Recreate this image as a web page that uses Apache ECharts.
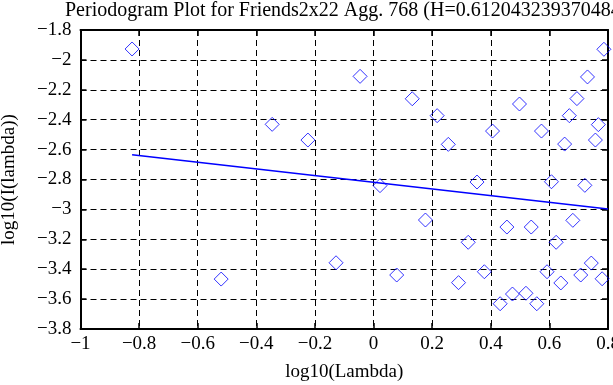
<!DOCTYPE html>
<html><head><meta charset="utf-8">
<script src="https://cdn.jsdelivr.net/npm/echarts@6/dist/echarts.min.js"></script>
<style>html,body{margin:0;padding:0;background:#fff}#c{width:613px;height:385px}</style>
</head><body><div id="c"></div>
<script>
const titleText = "Periodogram Plot for Friends2x22 Agg. 768 (H=0.6120432393704842)";
const xName = "log10(Lambda)";
const yName = "log10(I(lambda))";
const pointX = [-0.824,-0.520,-0.346,-0.224,-0.128,-0.046,0.132,0.217,0.255,0.406,0.498,0.573,0.652,0.668,0.694,0.730,0.786,0.767,0.757,0.022,0.353,0.607,0.721,0.177,0.455,0.538,0.680,0.323,0.623,0.079,0.290,0.378,0.592,0.639,0.707,0.743,0.780,0.474,0.520,0.432,0.557];
const pointY = [-1.927,-3.466,-2.431,-2.536,-3.357,-2.110,-2.260,-2.373,-2.565,-2.476,-2.295,-2.476,-2.563,-2.373,-2.259,-2.114,-1.929,-2.433,-2.536,-2.841,-2.817,-2.815,-2.839,-3.071,-3.118,-3.118,-3.073,-3.220,-3.220,-3.439,-3.490,-3.417,-3.417,-3.492,-3.439,-3.359,-3.464,-3.566,-3.561,-3.631,-3.631];
const fitX = [-0.824, 0.8];
const fitY = [-2.634, -2.997];

const font = '"Liberation Serif","Times New Roman",serif';
const fs = 19;
const minus = v => String(v).replace('-', '\u2212');
const chart = echarts.init(document.getElementById('c'));
const baseAxis = {
  axisLine:{show:true,onZero:false,lineStyle:{color:'#000',width:2}},
  axisTick:{show:true,inside:true,length:6,lineStyle:{color:'#000',width:1.5}},
  splitLine:{show:false}
};
chart.setOption({
  animation:false,
  title:{text:titleText,left:60,top:-4,textStyle:{fontFamily:font,fontSize:20,fontWeight:'normal',color:'#000'}},
  grid:{left:80.5,right:5,top:30,bottom:56,containLabel:false,outerBoundsMode:'none'},
  xAxis:[
    Object.assign({},baseAxis,{type:'value',min:-1,max:0.8,interval:0.2,position:'bottom',
      name:xName,nameLocation:'middle',nameGap:34,nameTextStyle:{fontFamily:font,fontSize:fs,color:'#000'},
      axisLabel:{fontFamily:font,fontSize:fs,color:'#000',margin:6,formatter:minus},
      splitLine:{show:true,lineStyle:{color:'#000',type:[6,4],width:1}}}),
    Object.assign({},baseAxis,{type:'value',min:-1,max:0.8,interval:0.2,position:'top',axisLabel:{show:false}})
  ],
  yAxis:[
    Object.assign({},baseAxis,{type:'value',min:-3.8,max:-1.8,interval:0.2,position:'left',
      name:yName,nameLocation:'middle',nameGap:62,nameRotate:90,nameTextStyle:{fontFamily:font,fontSize:fs,color:'#000'},
      axisLabel:{fontFamily:font,fontSize:fs,color:'#000',margin:9,padding:[6,0,0,0],formatter:minus},
      splitLine:{show:true,lineStyle:{color:'#000',type:[6,4],width:1}}}),
    Object.assign({},baseAxis,{type:'value',min:-3.8,max:-1.8,interval:0.2,position:'right',axisLabel:{show:false}})
  ],
  series:[
    {type:'scatter',data:pointX.map((x,i)=>[x,pointY[i]]),symbol:'diamond',symbolSize:[14,14],
     itemStyle:{color:'rgba(0,0,0,0)',borderColor:'#0000ff',borderWidth:1},z:3},
    {type:'line',data:fitX.map((x,i)=>[x,fitY[i]]),symbol:'none',lineStyle:{color:'#0000ff',width:1.5},z:4}
  ]
});
</script></body></html>
